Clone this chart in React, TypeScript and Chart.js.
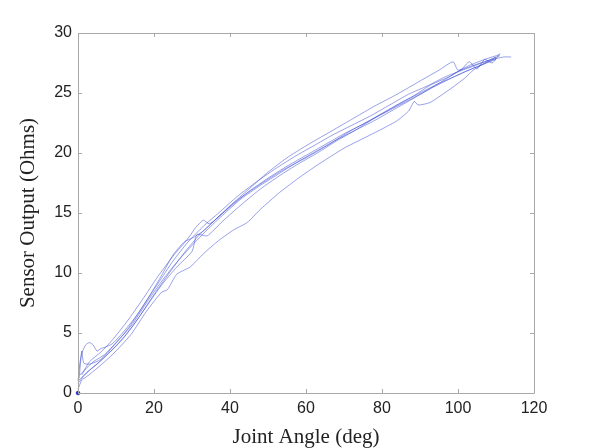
import React, { useEffect, useRef } from "react";
import { Chart, registerables } from "chart.js";

Chart.register(...registerables);

// Joint angle (deg) / sensor output (Ohms) traces
const trace1: [number, number][] = [[0,0.8],[2,1.6],[5,2.4],[8,3.3],[12,4.6],[16,6.3],[20,8.2],[24,10.0],[28,11.7],[32,13.2],[36,14.4],[40,15.5],[45,16.8],[50,17.9],[55,18.9],[60,19.8],[65,20.7],[70,21.6],[75,22.4],[80,23.3],[85,24.2],[90,25.0],[95,25.8],[100,26.5],[105,27.2],[110,27.8]];
const trace2: [number, number][] = [[0.3,1.2],[1,3.5],[1.5,2.5],[3,2.4],[6,2.8],[9,3.8],[13,5.3],[17,7.2],[21,9.1],[25,11.0],[29,12.6],[33,13.9],[37,15.0],[42,16.4],[47,17.6],[52,18.7],[57,19.7],[62,20.6],[67,21.5],[72,22.3],[77,23.1],[82,24.0],[87,24.9],[92,25.6],[97,26.4],[102,27.0],[107,27.6],[111,28.1]];
const trace3: [number, number][] = [[1,1.5],[3,2.6],[6,3.4],[9,4.4],[13,6.0],[17,7.8],[21,9.7],[25,11.4],[29,12.9],[31,13.8],[33,14.4],[34.5,14.1],[36,14.4],[40,15.6],[45,17.0],[50,18.4],[55,19.6],[60,20.6],[66,21.7],[72,22.8],[78,23.9],[84,24.9],[90,26.0],[95,26.9],[98.7,27.6],[100,26.9],[103,27.3],[107,27.8],[111,28.2]];
const trace4: [number, number][] = [[0,0.3],[1,1.1],[2,1.3],[4,1.8],[7,2.6],[10,3.5],[14,4.9],[18,6.8],[22,8.4],[23.5,8.6],[26,9.9],[29.5,10.5],[33,11.6],[37,12.7],[41,13.6],[44.5,14.2],[48,15.3],[53,16.7],[58,17.9],[63,19.0],[70,20.4],[75,21.2],[80,22.0],[84,22.7],[87,23.5],[88.5,24.3],[89.5,24.0],[92.6,24.2],[96,24.9],[98.7,25.5],[102,26.3],[104,26.9],[107,27.5],[110,28.0]];
const trace5: [number, number][] = [[0,1],[0.5,2.5],[1,3.3],[2,4.0],[3,4.2],[4,4.0],[5,3.5],[6,3.7],[7,3.8],[9,4.1],[12,5.1],[16,6.7],[19,8.2],[22,9.8],[25,11.5],[28,12.6],[30,12.9],[33,13.5],[37,14.7],[42,16.1],[48,17.4],[54,18.6],[60,19.6],[66,20.7],[72,21.9],[78,22.9],[84,23.9],[90,24.9],[96,26.0],[100,26.8],[104,27.3],[108,27.7],[112,28.0],[114,28.0]];
const trace6: [number, number][] = [[0.5,1.5],[2,2.0],[4,2.6],[7,3.2],[10,4.2],[14,5.6],[18,7.5],[22,9.3],[26,10.9],[30,12.3],[34,13.6],[38,14.8],[43,16.2],[48,17.3],[53,18.3],[58,19.3],[63,20.2],[68,21.1],[73,21.9],[78,22.7],[83,23.6],[88,24.5],[93,25.4],[98,26.2],[102,26.8],[106,27.3],[110,27.9]];
const trace7: [number, number][] = [[0,1.0],[3,1.9],[6,2.7],[10,3.9],[14,5.4],[18,7.2],[22,9.0],[26,10.5],[30,11.8],[31.3,13.2],[34,13.1],[38,14.3],[43,15.7],[48,17.0],[53,18.1],[58,19.1],[63,20.0],[68,21.0],[73,21.9],[78,22.9],[83,23.8],[88,24.7],[93,25.7],[98,26.4],[101,27.0],[103,27.6],[105,27.0],[107,27.8],[109,27.5],[111,28.3]];
const originPoint: [number, number][] = [[0, 0]];

const traces = [trace1, trace2, trace3, trace4, trace5, trace6, trace7];
const xTicks = [0, 20, 40, 60, 80, 100, 120];
const yTicks = [0, 5, 10, 15, 20, 25, 30];

const LINE = "rgba(60,75,210,0.75)";
const AXIS = "#a8a8a8";

const boxPlugin = {
  id: "matlabBox",
  afterDraw(chart: any) {
    const { ctx, chartArea: a, scales } = chart;
    ctx.save();
    ctx.strokeStyle = AXIS;
    ctx.lineWidth = 1;
    ctx.beginPath();
    ctx.rect(Math.round(a.left) + 0.5, Math.round(a.top) + 0.5, Math.round(a.right - a.left), Math.round(a.bottom - a.top));
    const tl = 4;
    xTicks.forEach((v) => {
      const px = Math.round(scales.x.getPixelForValue(v)) + 0.5;
      ctx.moveTo(px, a.bottom);
      ctx.lineTo(px, a.bottom - tl);
      ctx.moveTo(px, a.top);
      ctx.lineTo(px, a.top + tl);
    });
    yTicks.forEach((v) => {
      const py = Math.round(scales.y.getPixelForValue(v)) + 0.5;
      ctx.moveTo(a.left, py);
      ctx.lineTo(a.left + tl, py);
      ctx.moveTo(a.right, py);
      ctx.lineTo(a.right - tl, py);
    });
    ctx.stroke();
    ctx.restore();
  },
};

export default function App() {
  const ref = useRef<HTMLCanvasElement>(null);
  useEffect(() => {
    if (!ref.current) return;
    const datasets: any[] = traces.map((t) => ({
      data: t.map(([x, y]) => ({ x, y })),
      borderColor: LINE,
      borderWidth: 0.7,
      pointRadius: 0,
      showLine: true,
      tension: 0.2,
      fill: false,
      clip: false,
    }));
    datasets.push({
      data: originPoint.map(([x, y]) => ({ x, y })),
      borderColor: "rgb(40,50,200)",
      backgroundColor: "rgb(40,50,200)",
      pointRadius: 1.8,
      showLine: false,
      clip: false,
    });
    const chart = new Chart(ref.current, {
      type: "scatter",
      data: { datasets },
      plugins: [boxPlugin],
      options: {
        animation: false,
        responsive: false,
        layout: { padding: { left: 0, right: 66, top: 33, bottom: 0 } },
        plugins: { legend: { display: false }, tooltip: { enabled: false } },
        scales: {
          x: {
            type: "linear",
            min: 0,
            max: 120,
            afterBuildTicks: (s: any) => { s.ticks = xTicks.map((v) => ({ value: v })); },
            afterFit: (s: any) => { s.height = 55; },
            grid: { display: false, drawTicks: false },
            border: { display: false },
            ticks: { padding: 6, color: "#222", font: { family: "Liberation Sans, Arial", size: 16 }, maxRotation: 0 },
            title: {
              display: true,
              text: "Joint Angle (deg)",
              color: "#222",
              font: { family: "Liberation Serif, Times New Roman", size: 21, lineHeight: 1 },
              padding: { top: 0, bottom: 0.5 },
            },
          },
          y: {
            type: "linear",
            min: 0,
            max: 30,
            afterBuildTicks: (s: any) => { s.ticks = yTicks.map((v) => ({ value: v })); },
            afterFit: (s: any) => { s.width = 78; },
            grid: { display: false, drawTicks: false },
            border: { display: false },
            ticks: { padding: 6, color: "#222", font: { family: "Liberation Sans, Arial", size: 16 } },
            title: {
              display: true,
              text: "Sensor Output (Ohms)",
              color: "#222",
              font: { family: "Liberation Serif, Times New Roman", size: 21, lineHeight: 1 },
              padding: { top: 17.5, bottom: 0 },
            },
          },
        },
      },
    });
    return () => chart.destroy();
  }, []);
  return (
    <div style={{ position: "absolute", left: 0, top: 0, width: 600, height: 448, background: "#fff" }}>
      <canvas ref={ref} width={600} height={448} style={{ display: "block" }} />
    </div>
  );
}
